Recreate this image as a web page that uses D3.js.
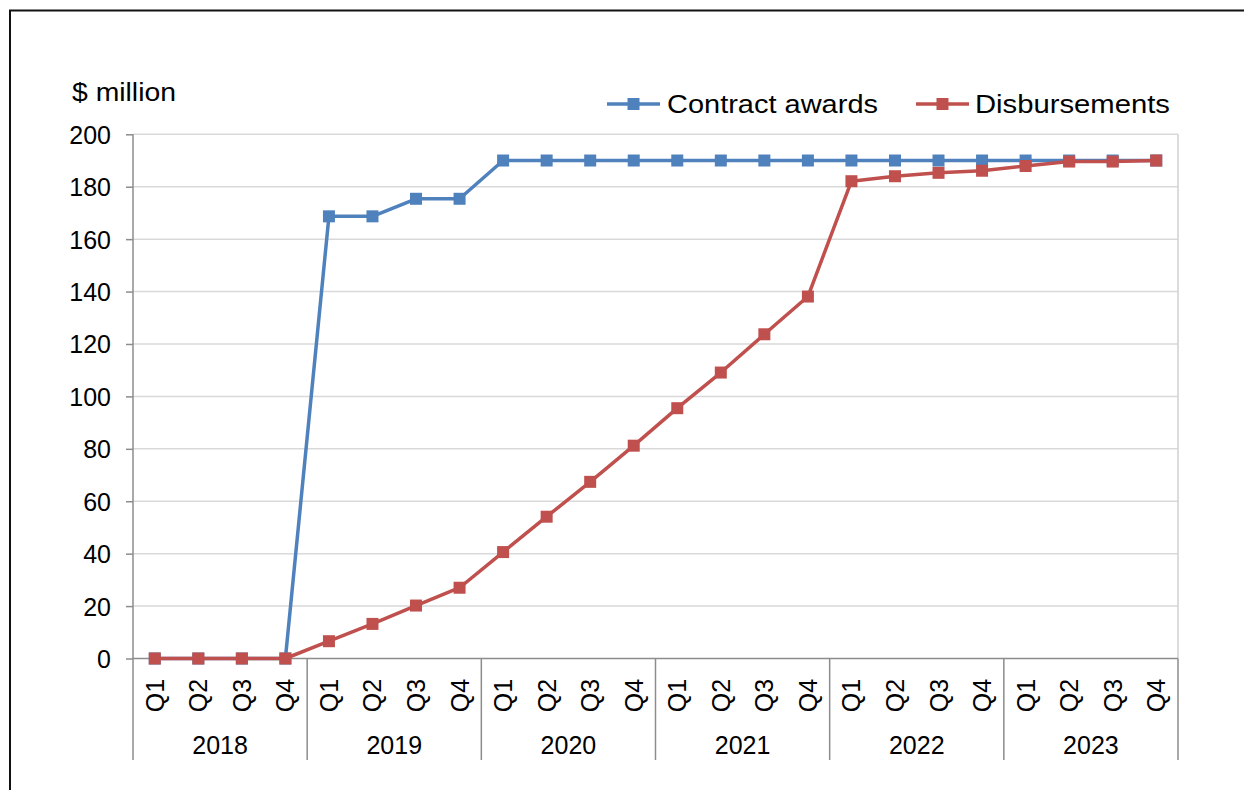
<!DOCTYPE html>
<html>
<head>
<meta charset="utf-8">
<script src="https://cdn.jsdelivr.net/npm/d3@7"></script>
<style>
  html, body { margin: 0; padding: 0; background: #fff; }
  svg { display: block; font-family: "Liberation Sans", Arial, sans-serif; }
</style>
</head>
<body>
<svg id="chart" width="1244" height="790"></svg>
<script>
// Quarterly cumulative amounts, $ million
const years = ["2018", "2019", "2020", "2021", "2022", "2023"];
const quarters = ["Q1", "Q2", "Q3", "Q4"];
const contractAwards = [0, 0, 0, 0, 168.7, 168.7, 175.4, 175.4, 190, 190, 190, 190,
                        190, 190, 190, 190, 190, 190, 190, 190, 190, 190, 190, 190];
const disbursements = [0, 0, 0, 0, 6.6, 13.2, 20.2, 27.0, 40.6, 54.1, 67.4, 81.2,
                       95.5, 109.1, 123.7, 138.1, 182.1, 184.0, 185.3, 186.1, 187.9, 189.6, 189.6, 190];
const yTicks = [0, 20, 40, 60, 80, 100, 120, 140, 160, 180, 200];
const seriesNames = ["Contract awards", "Disbursements"];
const seriesColors = ["#4F81BD", "#C0504D"];

const categories = [];
years.forEach(y => quarters.forEach(q => categories.push(y + "-" + q)));

const svg = d3.select("#chart");
const plotL = 133, plotR = 1178, plotT = 134.3, plotB = 658.5, catBottom = 760;

const x = d3.scaleBand().domain(categories).range([plotL, plotR]);
const y = d3.scaleLinear().domain([0, 200]).range([plotB, plotT]);

// outer frame (top and left edges)
svg.append("path")
  .attr("d", `M10,790 V10.5 H1244`)
  .attr("fill", "none").attr("stroke", "#111").attr("stroke-width", 2);

// horizontal gridlines
svg.append("g").selectAll("line").data(yTicks.filter(d => d > 0)).join("line")
  .attr("x1", plotL).attr("x2", plotR)
  .attr("y1", d => y(d)).attr("y2", d => y(d))
  .attr("stroke", "#d9d9d9").attr("stroke-width", 1.5);

// right border of plot area
svg.append("line").attr("x1", plotR).attr("x2", plotR).attr("y1", plotT).attr("y2", plotB)
  .attr("stroke", "#d0d0d0").attr("stroke-width", 1.5);

// y axis
const yAxis = d3.axisLeft(y).tickValues(yTicks).tickSize(7).tickPadding(15);
const gy = svg.append("g").attr("transform", `translate(${plotL},0)`).call(yAxis);
gy.select(".domain").remove();
gy.selectAll(".tick line").attr("stroke", "#8c8c8c").attr("stroke-width", 1.5);
gy.selectAll(".tick text").attr("font-size", 25).attr("fill", "#000")
  .attr("font-family", "Liberation Sans, Arial, sans-serif").attr("dy", "0.36em");
svg.append("line").attr("x1", plotL).attr("x2", plotL).attr("y1", plotT).attr("y2", catBottom)
  .attr("stroke", "#8c8c8c").attr("stroke-width", 1.5);

// category axis: baseline, year separators, quarter and year labels
svg.append("line").attr("x1", plotL).attr("x2", plotR).attr("y1", plotB).attr("y2", plotB)
  .attr("stroke", "#8c8c8c").attr("stroke-width", 1.5);

const yearBounds = years.map(yr => x(yr + "-Q4") + x.bandwidth());
svg.append("g").selectAll("line").data(yearBounds).join("line")
  .attr("x1", d => d).attr("x2", d => d).attr("y1", plotB).attr("y2", catBottom)
  .attr("stroke", "#8c8c8c").attr("stroke-width", 1.5);

const xAxis = d3.axisBottom(x).tickSize(0).tickFormat(d => d.split("-")[1]);
const gx = svg.append("g").attr("transform", `translate(0,${plotB})`).call(xAxis);
gx.select(".domain").remove();
gx.selectAll(".tick text")
  .attr("font-size", 25).attr("fill", "#000")
  .attr("font-family", "Liberation Sans, Arial, sans-serif")
  .attr("transform", "rotate(-90)")
  .attr("text-anchor", "middle")
  .attr("x", -37).attr("y", 0).attr("dy", "0.36em");

svg.append("g").selectAll("text").data(years).join("text")
  .attr("x", d => (x(d + "-Q1") + x(d + "-Q4") + x.bandwidth()) / 2)
  .attr("y", 754)
  .attr("text-anchor", "middle").attr("font-size", 25).attr("fill", "#000")
  .text(d => d);

// axis title
svg.append("text").attr("x", 72).attr("y", 101).attr("font-size", 26).attr("fill", "#000")
  .attr("textLength", 104).attr("lengthAdjust", "spacingAndGlyphs")
  .text("$ million");

// series lines and markers
const series = [contractAwards, disbursements];
const line = d3.line().x((d, i) => x(categories[i]) + x.bandwidth() / 2).y(d => y(d));
const ms = 12;
series.forEach((vals, s) => {
  const g = svg.append("g");
  g.append("path").datum(vals).attr("d", line)
    .attr("fill", "none").attr("stroke", seriesColors[s]).attr("stroke-width", 3.5)
    .attr("stroke-linejoin", "round");
  g.selectAll("rect").data(vals).join("rect")
    .attr("x", (d, i) => x(categories[i]) + x.bandwidth() / 2 - ms / 2)
    .attr("y", d => y(d) - ms / 2)
    .attr("width", ms).attr("height", ms)
    .attr("fill", seriesColors[s]);
});

// legend
const legendItems = [{ x: 607, tx: 667, tl: 211 }, { x: 916, tx: 975, tl: 195 }];
legendItems.forEach((it, s) => {
  const g = svg.append("g");
  g.append("line").attr("x1", it.x).attr("x2", it.x + 53).attr("y1", 104).attr("y2", 104)
    .attr("stroke", seriesColors[s]).attr("stroke-width", 3.5);
  g.append("rect").attr("x", it.x + 26.5 - ms / 2).attr("y", 104 - ms / 2)
    .attr("width", ms).attr("height", ms).attr("fill", seriesColors[s]);
  g.append("text").attr("x", it.tx).attr("y", 113).attr("font-size", 26).attr("fill", "#000")
    .attr("textLength", it.tl).attr("lengthAdjust", "spacingAndGlyphs")
    .text(seriesNames[s]);
});
</script>
</body>
</html>
